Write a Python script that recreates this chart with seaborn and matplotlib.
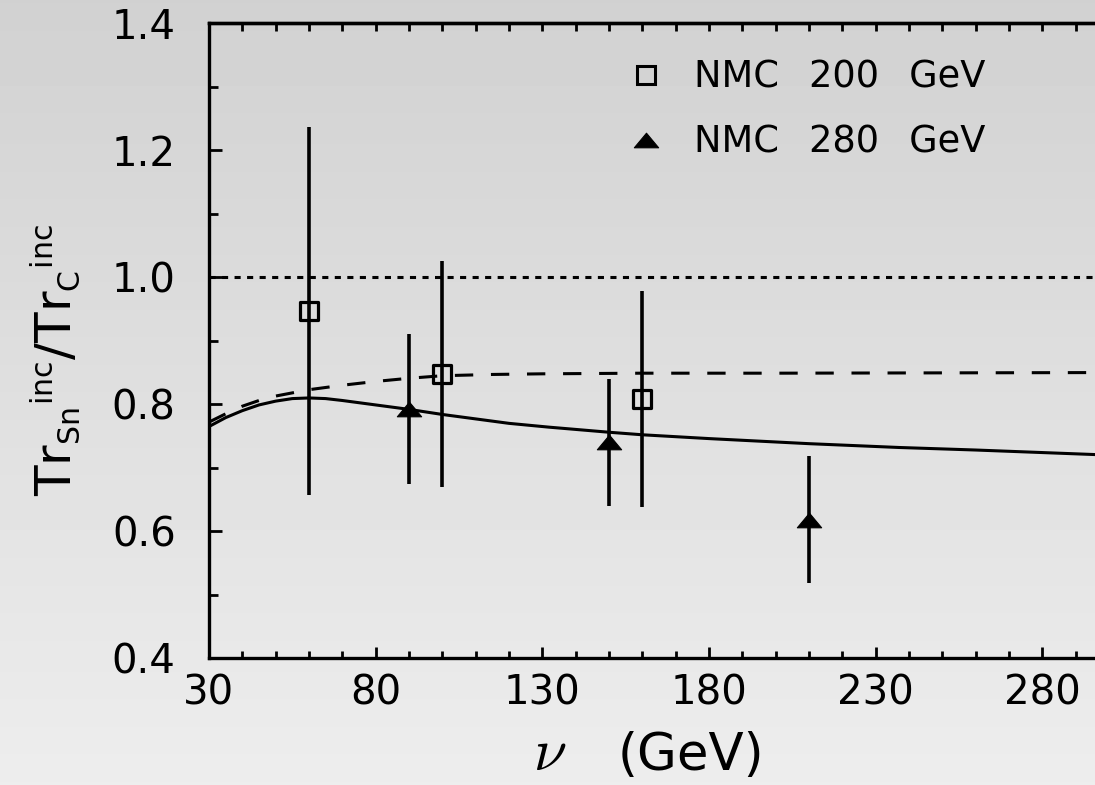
import numpy as np
import pandas as pd
import matplotlib
matplotlib.use("Agg")
import matplotlib.pyplot as plt
from matplotlib.lines import Line2D
from matplotlib.path import Path
from matplotlib.ticker import MultipleLocator
import matplotlib._mathtext as _mt
import seaborn as sns

# ---------------- data ----------------
nu_200 = [60, 100, 160]
ratio_200 = [0.947, 0.848, 0.809]
err_200 = [0.29, 0.178, 0.170]

nu_280 = [90, 150, 210]
ratio_280 = [0.793, 0.740, 0.618]
err_280 = [0.118, 0.100, 0.100]

curve_solid_nu = [30, 35, 40, 45, 50, 55, 60, 65, 70, 80, 90, 100, 110, 120,
                  132, 150, 160, 180, 210, 237, 260, 280, 300]
curve_solid_val = [0.765, 0.779, 0.790, 0.799, 0.805, 0.809, 0.810, 0.809,
                   0.806, 0.799, 0.792, 0.784, 0.777, 0.770, 0.764, 0.756,
                   0.752, 0.746, 0.738, 0.732, 0.728, 0.724, 0.720]

curve_dash_nu = [30, 35, 40, 45, 50, 55, 60, 70, 80, 90, 100, 115, 130, 160,
                 200, 300]
curve_dash_val = [0.772, 0.785, 0.797, 0.806, 0.813, 0.818, 0.823, 0.830,
                  0.836, 0.841, 0.845, 0.847, 0.848, 0.849, 0.849, 0.850]

reference_level = 1.0

legend_labels = ["NMC \u2002200 \u2002GeV", "NMC \u2002280 \u2002GeV"]
x_ticks = [30, 80, 130, 180, 230, 280]
y_ticks = [0.4, 0.6, 0.8, 1.0, 1.2, 1.4]

# ---------------- style ----------------
sns.set_style("ticks")
plt.rcParams["font.family"] = ["DejaVu Sans"]
for k in ["text.color", "axes.labelcolor", "xtick.color", "ytick.color",
          "axes.edgecolor"]:
    plt.rcParams[k] = "black"
_mt.SHRINK_FACTOR = 0.6  # smaller sub/superscripts in the y label

W, H = 1095, 785
fig = plt.figure(figsize=(W / 100, H / 100), dpi=100)

# gradient background
bg = fig.add_axes([0, 0, 1, 1], zorder=-10)
grad = np.linspace(0.82, 0.93, 256).reshape(-1, 1)
bg.imshow(grad, cmap="gray", vmin=0, vmax=1, aspect="auto", extent=[0, 1, 1, 0])
bg.set_axis_off()

left_px, right_px, top_px, bot_px = 209, 1109, 23.3, 658.3
ax = fig.add_axes([left_px / W, 1 - bot_px / H,
                   (right_px - left_px) / W, (bot_px - top_px) / H])
ax.set_facecolor("none")

# curves
df_solid = pd.DataFrame({"nu": curve_solid_nu, "r": curve_solid_val})
df_dash = pd.DataFrame({"nu": curve_dash_nu, "r": curve_dash_val})
sns.lineplot(data=df_solid, x="nu", y="r", color="black", lw=2.2, ax=ax,
             sort=False, estimator=None)
sns.lineplot(data=df_dash, x="nu", y="r", color="black", lw=2.2, ax=ax,
             sort=False, estimator=None)
ax.lines[-1].set_dashes([6.0, 5.8])
ax.axhline(reference_level, color="black", lw=2.2, dashes=[2.0, 2.1])

# error bars
ax.errorbar(nu_200, ratio_200, yerr=err_200, fmt="none", ecolor="black",
            elinewidth=2.6, capsize=0)
ax.errorbar(nu_280, ratio_280, yerr=err_280, fmt="none", ecolor="black",
            elinewidth=2.6, capsize=0)

tri = Path([(-1, -0.6), (1, -0.6), (0, 0.6), (-1, -0.6)],
           [Path.MOVETO, Path.LINETO, Path.LINETO, Path.CLOSEPOLY])

sns.scatterplot(x=nu_200, y=ratio_200, marker="s", s=13 ** 2,
                facecolors="none", edgecolor="black", linewidth=2.3, ax=ax,
                zorder=5)
sns.scatterplot(x=nu_280, y=ratio_280, marker=tri, s=17.5 ** 2,
                color="black", edgecolor="black", linewidth=0.8, ax=ax,
                zorder=5)

# legend
handles = [
    Line2D([], [], ls="none", marker="s", ms=13, mfc="none", mec="black",
           mew=2.2),
    Line2D([], [], ls="none", marker=tri, ms=17.5, mfc="black", mec="black",
           mew=0.8),
]
leg = ax.legend(handles, legend_labels, loc="upper left",
                bbox_to_anchor=(628 / W, 1 - 59 / H),
                bbox_transform=fig.transFigure, frameon=False, fontsize=26.5,
                handlelength=1.0, handletextpad=0.8, labelspacing=0.76,
                borderpad=0, borderaxespad=0)

# axes
ax.set_xlim(30, 300)
ax.set_ylim(0.4, 1.4)
ax.set_xticks(x_ticks)
ax.set_xticklabels([str(v) for v in x_ticks])
ax.set_yticks(y_ticks)
ax.set_yticklabels([f"{v:.1f}" for v in y_ticks])
ax.xaxis.set_minor_locator(MultipleLocator(10))
ax.yaxis.set_minor_locator(MultipleLocator(0.1))

ax.tick_params(axis="x", which="major", direction="in", length=8, width=2.0,
               labelsize=29, pad=11, top=False, bottom=True)
ax.tick_params(axis="x", which="minor", direction="in", length=5, width=2.0,
               top=False, bottom=True)
ax.tick_params(axis="y", which="major", direction="in", length=9.5, width=2.0,
               labelsize=29, pad=24, right=False, left=True)
ax.tick_params(axis="y", which="minor", direction="in", length=6.5, width=2.0,
               right=False, left=True)
for s in ax.spines.values():
    s.set_linewidth(2.4)
    s.set_color("black")

sec = ax.secondary_xaxis("top")
sec.set_xticks(list(range(30, 301, 10)))
sec.tick_params(axis="x", direction="in", length=6, width=2.0, labeltop=False)
sec.spines["top"].set_linewidth(2.4)

# x label: "(GeV)" as the axis label, the large italic nu next to it
label_y = (bot_px - 770) / (bot_px - top_px)
ax.set_xlabel("(GeV)", fontsize=37)
ax.xaxis.label.set_va("baseline")
ax.xaxis.set_label_coords((691 - left_px) / (right_px - left_px), label_y)
ax.text((550 - left_px) / (right_px - left_px), label_y, r"$\nu$",
        transform=ax.transAxes, fontsize=43, math_fontfamily="cm",
        ha="center", va="baseline")

ax.set_ylabel(r"$\mathrm{Tr}_{\mathrm{Sn}}{}^{\mathrm{inc}}/\mathrm{Tr}_{\mathrm{C}}{}^{\mathrm{inc}}$",
              fontsize=36, math_fontfamily="dejavusans")
ax.yaxis.set_label_coords((82 - left_px) / (right_px - left_px),
                          (bot_px - 360) / (bot_px - top_px))

fig.savefig("out.png", dpi=100)
